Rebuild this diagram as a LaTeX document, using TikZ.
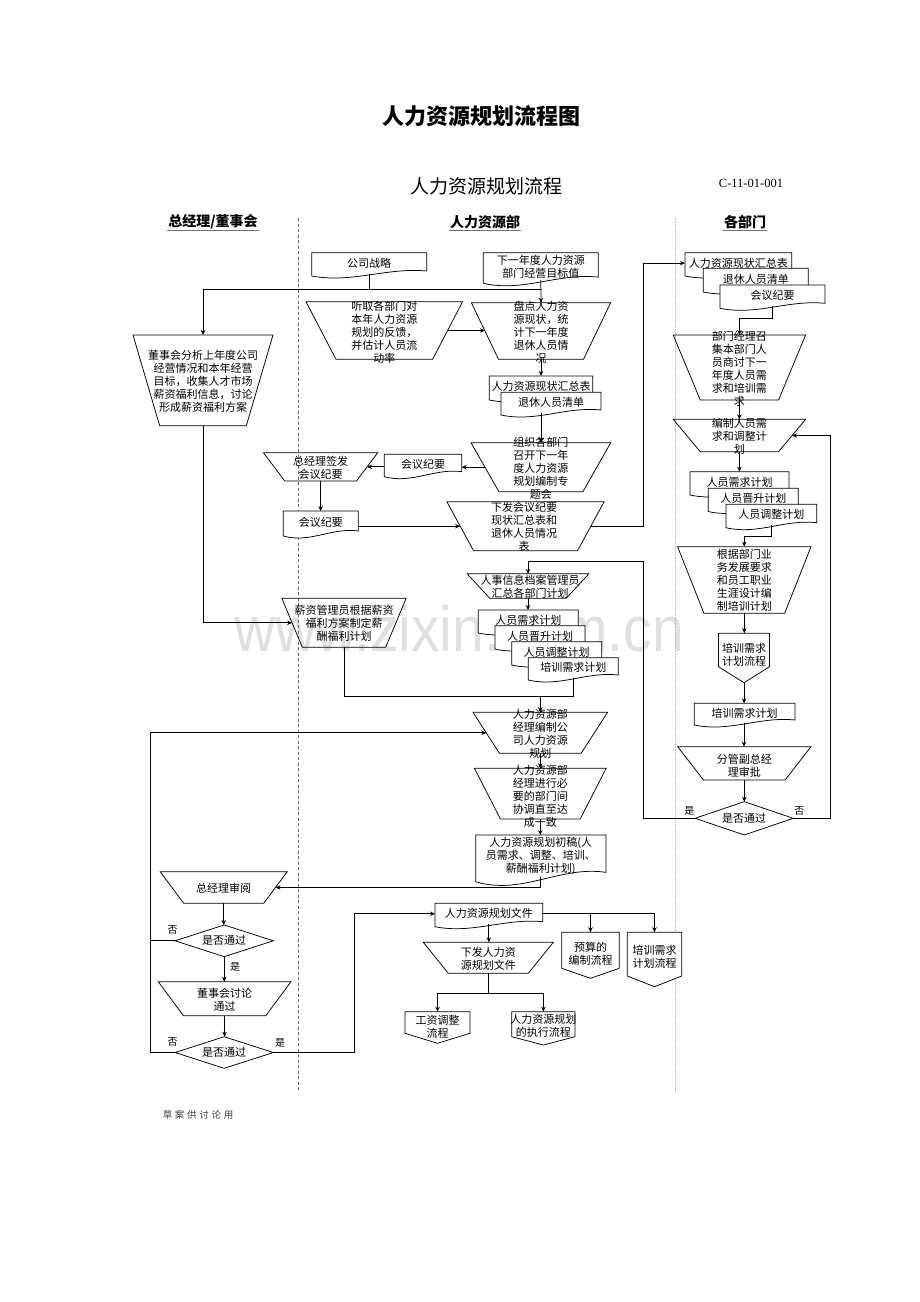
\documentclass[tikz,border=0pt]{standalone}
\usepackage{fontspec}
\setmainfont{Liberation Serif}
\newfontfamily\cjk{Noto Sans CJK SC}
\newfontfamily\wmfont{Liberation Sans}
\usetikzlibrary{shapes.geometric,arrows.meta,calc}

\tikzset{
 ln/.style={line width=0.75pt, draw=black},
 arr/.style={ln, -{Stealth[length=5pt,width=4.5pt]}},
 txt/.style={font=\cjk\fontsize{11}{13}\selectfont, align=center, inner sep=0pt},
 dia/.style={diamond, draw=black, line width=0.75pt, inner sep=0pt, outer sep=0pt},
 base/.style={rectangle, inner sep=0pt, outer sep=0pt},
 yn/.style={font=\cjk\fontsize{10}{12}\selectfont, inner sep=0pt},
 hdr/.style={font=\cjk\bfseries\fontsize{14}{16}\selectfont, inner sep=1pt},
}

% name cx cy Wtop wbot H text (dx,dy)
\newcommand\Trap[8]{%
  \pgfmathsetmacro\tM{(#4+#5)/2}%
  \pgfmathsetmacro\tI{(#4-#5)/4}%
  \node[base, minimum width=\tM pt, minimum height=#6pt] (#1) at (#2,#3) {};
  \draw[ln] ([xshift=-\tI pt]#1.north west) -- ([xshift=\tI pt]#1.north east)
     -- ([xshift=-\tI pt]#1.south east) -- ([xshift=\tI pt]#1.south west) -- cycle;
  \node[txt] (#1-t) at ($(#1.center)+(#8)$) {#7};
}
% name x0 y0 x1 ybottomleft text
\newcommand\Doc[6]{%
  \pgfmathsetmacro\dA{max(2.5,0.1*(#5-#3))}%
  \pgfmathsetmacro\dW{#4-#2}%
  \pgfmathsetmacro\dH{#5-#3-\dA}%
  \pgfmathsetmacro\dX{(#2+#4)/2}%
  \pgfmathsetmacro\dY{#3+\dH/2}%
  \pgfmathsetmacro\cA{0.35*\dW}%
  \pgfmathsetmacro\cB{1.5*\dA}%
  \pgfmathsetmacro\cC{3*\dA}%
  \node[base, minimum width=\dW pt, minimum height=\dH pt] (#1) at (\dX,\dY) {};
  \draw[ln, fill=white] (#1.north west) -- (#1.north east) -- ([yshift=\dA pt]#1.south east)
     .. controls +(-\cA pt,\cB pt) and +(\cA pt,-\cC pt) .. ([yshift=-\dA pt]#1.south west) -- cycle;
  \node[txt] (#1-t) at (#1.center) {#6};
}
% name x0 x1 ytop yrect ypoint text texty
\newcommand\Pent[8]{%
  \pgfmathsetmacro\pW{#3-#2}%
  \pgfmathsetmacro\pH{#6-#4}%
  \pgfmathsetmacro\pX{(#2+#3)/2}%
  \pgfmathsetmacro\pY{(#4+#6)/2}%
  \node[base, minimum width=\pW pt, minimum height=\pH pt] (#1) at (\pX,\pY) {};
  \draw[ln, fill=white] (#1.north west) -- (#1.north east) -- (#3,#5) -- (#1.south) -- (#2,#5) -- cycle;
  \node[txt] (#1-t) at (\pX,#8) {#7};
}

\begin{document}
\begin{tikzpicture}[x=1pt,y=-1pt]
\useasboundingbox (0,0) rectangle (920,1302);
\fill[white] (0,0) rectangle (920,1302);

% watermark (behind the drawing)
\node[font=\wmfont\fontsize{64}{66}\selectfont, text=black!12, inner sep=0pt, anchor=base, xscale=0.89] (wm) at (459,651.7) {www.zixin.com.cn};

% titles
\node[font=\cjk\bfseries\fontsize{22}{26}\selectfont] (title) at (481,116) {人力资源规划流程图};
\node[font=\cjk\fontsize{19}{22}\selectfont] (sub) at (486,186) {人力资源规划流程};
\node[font=\fontsize{12.5}{14}\selectfont] (code) at (751,183) {C-11-01-001};
\node[hdr] (h1) at (213,222) {总经理/董事会};
\node[hdr] (h2) at (485,222) {人力资源部};
\node[hdr] (h3) at (745,222) {各部门};
\draw[black!55, line width=0.5pt] (h1.south west) -- (h1.south east);
\draw[black!55, line width=0.5pt] (h2.south west) -- (h2.south east);
\draw[black!55, line width=0.5pt] (h3.south west) -- (h3.south east);

% lane dividers
\draw[black!60, line width=0.5pt, dash pattern=on 3pt off 2.5pt] (298,218) -- (298,1092);
\draw[black!25, line width=0.6pt, dash pattern=on 1.5pt off 1.5pt] (675,218) -- (675,1092);

% ---- left lane
\Trap{dsh}{203}{380.3}{140}{86.7}{90.7}{董事会分析上年度公司\\经营情况和本年经营\\目标，收集人才市场\\薪资福利信息，讨论\\形成薪资福利方案}{0,1}
\Trap{qf}{320.6}{466.8}{114.4}{71.7}{28.3}{总经理签发\\会议纪要}{0,0.7}
\Doc{hy2}{283.3}{511}{358.3}{536}{会议纪要}
\Trap{xz}{344}{622.8}{124.3}{83.3}{49}{薪资管理员根据薪资\\福利方案制定薪\\酬福利计划}{0,0.5}
\Trap{sy}{223.7}{887.5}{127}{80}{31.6}{总经理审阅}{0,0.8}
\node[dia, minimum width=98.3pt, minimum height=31.7pt] (d2) at (224.2,940.8) {};
\node[txt] (d2-t) at (d2.center) {是否通过};
\Trap{dt}{224.6}{998.7}{132.7}{82.4}{34}{董事会讨论\\通过}{0,1}
\node[dia, minimum width=98.3pt, minimum height=31.6pt] (d3) at (224.2,1052.5) {};
\node[txt] (d3-t) at (d3.center) {是否通过};

% ---- middle lane
\Doc{gs}{311.7}{252.7}{426.7}{276}{公司战略}
\Doc{xy}{483.3}{252.7}{598.3}{283.3}{下一年度人力资源\\部门经营目标值}
\Trap{tq}{384.3}{330.5}{156.6}{96.6}{57.6}{听取各部门对\\本年人力资源\\规划的反馈，\\并估计人员流\\动率}{0,2}
\Trap{pd}{541}{331}{139.3}{85}{56.6}{盘点人力资\\源现状，统\\计下一年度\\退休人员情\\况}{0,1}
\Doc{m1}{489.3}{376}{592.7}{400}{人力资源现状汇总表}
\Doc{m2}{501}{392.3}{601}{415}{退休人员清单}
\Trap{zz}{540.9}{467.2}{139.7}{84}{49}{组织各部门\\召开下一年\\度人力资源\\规划编制专\\题会}{0,1.3}
\Doc{hy1}{384.3}{454.3}{461.7}{476.7}{会议纪要}
\Trap{xf}{525.5}{526.2}{157.3}{104}{49}{下发会议纪要\\现状汇总表和\\退休人员情况\\表}{-1.5,0.5}
\Trap{rs}{528}{586}{121.6}{76.7}{24.3}{人事信息档案管理员\\汇总各部门计划}{2,0.7}
\Doc{t1}{478.3}{610}{578.3}{633}{人员需求计划}
\Doc{t2}{495}{625.7}{585}{649}{人员晋升计划}
\Doc{t3}{511.7}{641.7}{601.7}{665}{人员调整计划}
\Doc{t4}{528.3}{657.7}{618.3}{680}{培训需求计划}
\Trap{bz}{540.3}{732.8}{134.6}{81.7}{41}{人力资源部\\经理编制公\\司人力资源\\规划}{0,1.2}
\Trap{xt}{540.3}{793.7}{131.7}{79.7}{50.7}{人力资源部\\经理进行必\\要的部门间\\协调直至达\\成一致}{0,2.3}
\Doc{cg}{475.7}{835}{606}{881.7}{人力资源规划初稿(人\\员需求、调整、培训、\\薪酬福利计划)}
\Doc{gh}{435}{903.3}{542.7}{926.7}{人力资源规划文件}
\Trap{xw}{488.3}{957.8}{130}{80}{31}{下发人力资\\源规划文件}{0,0.5}
\Pent{p2}{561.7}{619.3}{932.3}{968.3}{978.3}{预算的\\编制流程}{954}
\Pent{p3}{627.3}{681.7}{932.3}{976}{986.7}{培训需求\\计划流程}{957.2}
\Pent{p4}{405}{470}{1011.7}{1033.3}{1043.3}{工资调整\\流程}{1026.3}
\Pent{p5}{511.7}{575}{1011.7}{1036.7}{1045}{人力资源规划\\的执行流程}{1025.8}

% ---- right lane
\Doc{r1}{685}{252.7}{791.7}{276}{人力资源现状汇总表}
\Doc{r2}{703.3}{268.3}{808.3}{292}{退休人员清单}
\Doc{r3}{720}{285}{825}{308.3}{会议纪要}
\Trap{bm}{739.4}{367.5}{132.4}{78.3}{65}{部门经理召\\集本部门人\\员商讨下一\\年度人员需\\求和培训需\\求}{0,1.7}
\Trap{bz2}{739.4}{435.5}{132.4}{78.3}{32.4}{编制人员需\\求和调整计\\划}{0,1.2}
\Doc{s1}{690}{471.7}{789}{495}{人员需求计划}
\Doc{s2}{708.3}{488.3}{798.3}{511.5}{人员晋升计划}
\Doc{s3}{726}{504.3}{816.7}{527.7}{人员调整计划}
\Trap{gj}{744.3}{580}{133.4}{80.7}{66.6}{根据部门业\\务发展要求\\和员工职业\\生涯设计编\\制培训计划}{0,0.5}
\Pent{p1}{718.5}{769.5}{633.3}{666.7}{682.7}{培训需求\\计划流程}{655}
\Doc{pxjh}{694.3}{703.3}{795}{725}{培训需求计划}
\Trap{fg}{744.3}{763.3}{133.3}{81.7}{33.3}{分管副总经\\理审批}{0,2}
\node[dia, minimum width=98.3pt, minimum height=33.3pt] (d1) at (744.2,818.3) {};
\node[txt] (d1-t) at (d1.center) {是否通过};

% ---- labels
\node[yn] (l1) at (689.3,810.7) {是};
\node[yn] (l2) at (799.3,810.7) {否};
\node[yn] (l3) at (172.7,930) {否};
\node[yn] (l4) at (235,967.3) {是};
\node[yn] (l5) at (172.7,1041.7) {否};
\node[yn] (l6) at (280,1042.7) {是};

% ---- connectors
\coordinate (jA) at (369,289);
\coordinate (cR) at (643,0);
\coordinate (cQ) at (830,0);
\coordinate (cS) at (0,561);
\coordinate (cT) at (0,696.7);
\coordinate (cL) at (150,0);
\coordinate (cM) at (354.3,0);
\coordinate (cN) at (0,993.3);

\draw[ln] (gs.south) -- (gs.south |- jA);
\draw[ln] (dsh.north |- jA) -- (pd.north |- jA);
\draw[arr] (dsh.north |- jA) -- (dsh.north);
\draw[arr] (xy.south) -- (pd.north);
\draw[arr] (tq.east) -- (tq.east -| pd.west);
\draw[arr] (pd.south) -- (m1.north);
\draw[arr] (zz.north |- m2.south) -- (zz.north);
\draw[arr] (zz.west) -- (zz.west -| hy1.east);
\draw[arr] (hy1.west |- qf.east) -- (qf.east);
\draw[arr] (qf.south) -- (qf.south |- hy2.north);
\draw[arr] (hy2.east |- xf.west) -- (xf.west);
\draw[arr] (xf.east) -- (xf.east -| cR) -- (cR |- r1.west) -- (r1.west);

\draw[arr] (r3.south) -- ++(0,13) -| (bm.north);
\draw[arr] (bm.south) -- (bz2.north);
\draw[arr] (bz2.south) -- (bz2.south |- s1.north);
\draw[arr] (s3.south) -- ++(0,11) -| (gj.north);
\draw[arr] (gj.south) -- (gj.south |- p1.north);
\draw[arr] (p1.south) -- (p1.south |- pxjh.north);
\draw[arr] (pxjh.south -| p1.south) -- (p1.south |- fg.north);
\draw[arr] (fg.south) -- (fg.south |- d1.north);
\draw[arr] (d1.east) -- (d1.east -| cQ) -- (cQ |- bz2.east) -- (bz2.east);
\draw[arr] (d1.west) -- (d1.west -| cR) -- (cR |- cS) -- (rs.north |- cS) -- (rs.north);

\draw[arr] (rs.south) -- (rs.south |- t1.north);
\draw[ln] (t4.south) -- (t4.south |- cT);
\draw[ln] (xz.south) -- (xz.south |- cT) -- (t4.south |- cT);
\draw[arr] (bz.north |- cT) -- (bz.north);
\draw[arr] (dsh.south) |- (xz.west);
\draw[arr] (bz.south) -- (xt.north);
\draw[arr] (xt.south) -- (xt.south |- cg.north);
\draw[arr] (cg.south) |- (sy.east);
\draw[arr] (sy.south) -- (sy.south |- d2.north);
\draw[arr] (d2.south) -- (d2.south |- dt.north);
\draw[arr] (dt.south) -- (dt.south |- d3.north);
\draw[ln] (d2.west) -- (d2.west -| cL);
\draw[arr] (d3.west) -- (d3.west -| cL) -- (cL |- bz.west) -- (bz.west);
\draw[arr] (d3.east) -- (d3.east -| cM) -- (cM |- gh.west) -- (gh.west);
\draw[ln] (gh.east) -- (gh.east -| p3.north);
\draw[arr] (gh.east -| p3.north) -- (p3.north);
\draw[arr] (gh.east -| p2.north) -- (p2.north);
\draw[arr] (gh.south) -- (gh.south |- xw.north);
\draw[ln] (xw.south) -- (xw.south |- cN);
\draw[ln] (p4.north |- cN) -- (p5.north |- cN);
\draw[arr] (p4.north |- cN) -- (p4.north);
\draw[arr] (p5.north |- cN) -- (p5.north);

% footer
\node[font=\cjk\fontsize{9.5}{11}\selectfont, text=black!75, inner sep=0pt] (ft) at (198,1115) {草\hspace{2.7pt}案\hspace{2.7pt}供\hspace{2.7pt}讨\hspace{2.7pt}论\hspace{2.7pt}用};
\end{tikzpicture}
\end{document}
